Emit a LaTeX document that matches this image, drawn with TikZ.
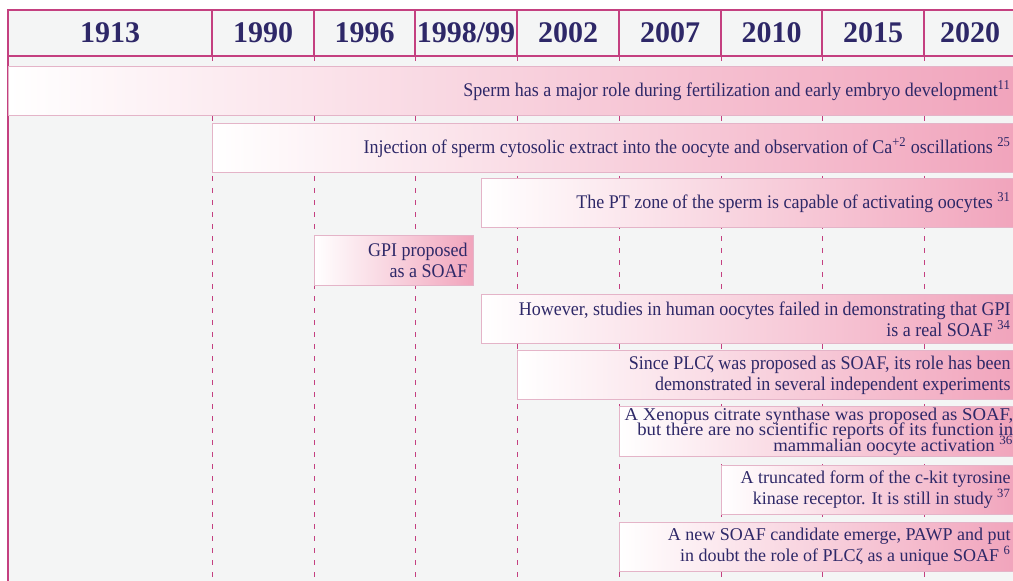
\documentclass[tikz,border=0pt]{standalone}
\usepackage{fontspec}
\setmainfont{Liberation Serif}
\newfontfamily\narrowserif[FakeStretch=0.93]{Liberation Serif}
\newfontfamily\broadserif[FakeStretch=1.04]{Liberation Serif}
\usetikzlibrary{positioning}

\definecolor{framemagenta}{RGB}{196,64,128}
\definecolor{panelgray}{RGB}{244,245,245}
\definecolor{inkblue}{RGB}{46,40,104}
\definecolor{barpink}{RGB}{241,164,188}
\definecolor{barline}{RGB}{228,180,200}

\newcommand{\tightlines}{\lineskiplimit=-20pt\relax\lineskip=0pt\relax}

\tikzset{every picture/.style={line width=0.75pt}}
\tikzset{
  frame/.style={draw=framemagenta, line width=1.1pt},
  guide/.style={draw=framemagenta, line width=0.75pt, dash pattern=on 4pt off 5pt},
  yearlab/.style={font=\fontsize{22.5}{24}\selectfont\bfseries, text=inkblue, inner sep=0.75pt},
  bar/.style={draw=barline, line width=0.75pt, left color=white, middle color=barpink!62!white,
    right color=barpink, anchor=north west, minimum height=36.75pt, inner sep=0pt},
  bartext/.style={font=\narrowserif\fontsize{14.5}{15.75}\selectfont, text=inkblue,
    align=right, inner sep=0pt},
  widetext/.style={font=\fontsize{13.5}{15.75}\selectfont, text=inkblue,
    align=right, inner sep=0pt}
}

\begin{document}
\begin{tikzpicture}[x=0.75pt,y=0.75pt,yscale=-1,xscale=1]
\useasboundingbox (0,0) rectangle (1013,581);
\clip (0,0) rectangle (1013,581);

%Shape: Rectangle [panel]
\fill[panelgray] (8,10) rectangle (1030,590);

%Dashed guides
\foreach \gx in {212,314,415,517,619,721,822,924}
  \draw[guide] (\gx,56) -- (\gx,590);

%Header frame
\foreach \gx in {212,314,415,517,619,721,822,924}
  \draw[frame] (\gx,10) -- (\gx,56);
\draw[frame] (8,590) -- (8,10) -- (1030,10);
\draw[frame] (8,56) -- (1030,56);

% Text Node
\node[yearlab] (y1913) at (110,33) {1913};
\node[yearlab] (y1990) at (263,33) {1990};
\node[yearlab] (y1996) at (364.5,33) {1996};
\node[yearlab] (y1998) at (466,33) {1998/99};
\node[yearlab] (y2002) at (568,33) {2002};
\node[yearlab] (y2007) at (670,33) {2007};
\node[yearlab] (y2010) at (771.5,33) {2010};
\node[yearlab] (y2015) at (873,33) {2015};
\node[yearlab] (y2020) at (970,33) {2020};

%Bars
\node[bar, minimum width=754.5pt] (role) at (8,66) {};
\node[bartext, left=3pt of role.east] (roletxt) {Sperm has a major role during fertilization and early embryo development\textsuperscript{11}};

\node[bar, minimum width=601.5pt] (inject) at (212,123) {};
\node[bartext, left=3pt of inject.east] (injecttxt) {Injection of sperm cytosolic extract into the oocyte and observation of Ca\textsuperscript{+2} oscillations \textsuperscript{25}};

\node[bar, minimum width=399.75pt] (ptzone) at (481,178) {};
\node[bartext, left=3pt of ptzone.east] (ptzonetxt) {The PT zone of the sperm is capable of activating oocytes \textsuperscript{31}};

\node[bar, minimum width=119.25pt, minimum height=37.5pt] (gpi) at (314,235) {};
\node[bartext, left=4.5pt of gpi.east] (gpitxt) {GPI proposed\\as a SOAF};

\node[bar, minimum width=399.75pt] (human) at (481,294) {};
\node[bartext, left=3pt of human.east] (humantxt) {However, studies in human oocytes failed in demonstrating that GPI\\is a real SOAF \textsuperscript{34}};

\node[bar, minimum width=372.75pt] (plcz) at (517,350) {};
\node[bartext, left=3pt of plcz.east] (plcztxt) {Since PLCζ was proposed as SOAF, its role has been\\demonstrated in several independent experiments};

\node[bar, minimum width=296.25pt, minimum height=37.5pt] (xenopus) at (619,406) {};
\node[widetext, font=\broadserif\fontsize{13.5}{11.5}\selectfont\tightlines, left=1pt of xenopus.east] (xenopustxt) {A Xenopus citrate synthase was proposed as SOAF,\\but there are no scientific reports of its function in\\mammalian oocyte activation \textsuperscript{36}};

\node[bar, minimum width=219.75pt] (ckit) at (721,465) {};
\node[widetext, left=3pt of ckit.east] (ckittxt) {A truncated form of the c-kit tyrosine\\kinase receptor. It is still in study \textsuperscript{37}};

\node[bar, minimum width=296.25pt] (pawp) at (619,522) {};
\node[widetext, left=3pt of pawp.east] (pawptxt) {A new SOAF candidate emerge, PAWP and put\\in doubt the role of PLCζ as a unique SOAF \textsuperscript{6}};

\end{tikzpicture}
\end{document}
